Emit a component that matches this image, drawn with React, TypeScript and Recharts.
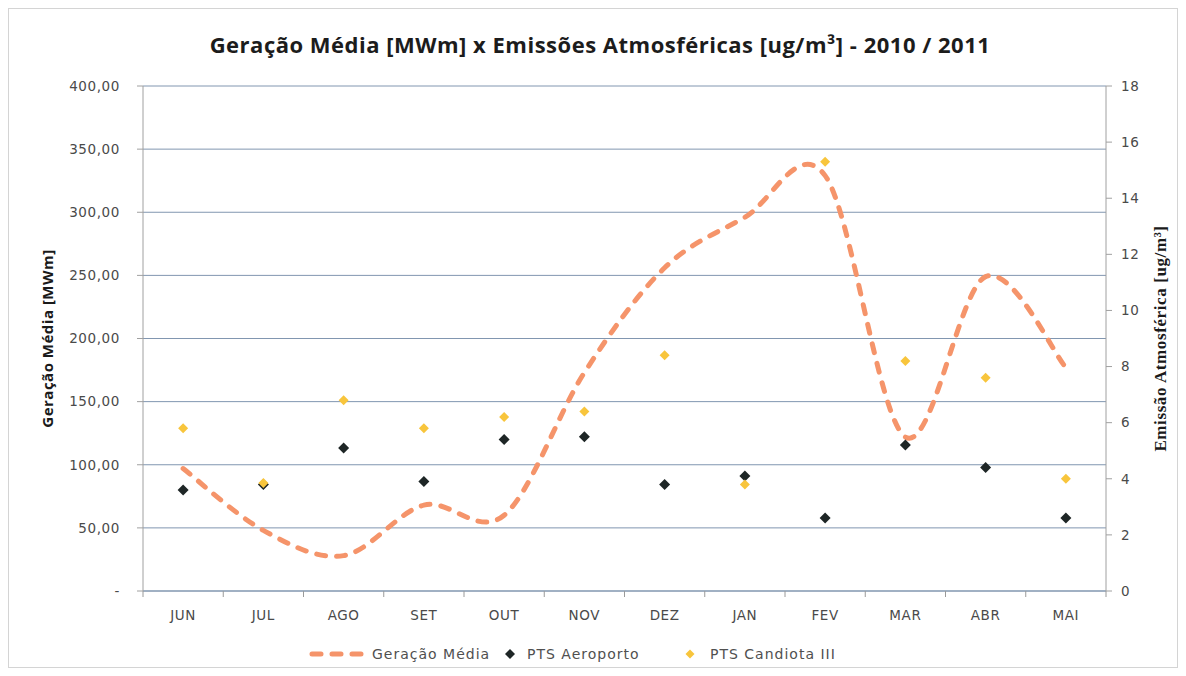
import React from 'react';
import {
	ComposedChart,
	Line,
	Scatter,
	XAxis,
	YAxis,
	CartesianGrid,
	Legend,
} from 'recharts';

const months = ['JUN', 'JUL', 'AGO', 'SET', 'OUT', 'NOV', 'DEZ', 'JAN', 'FEV', 'MAR', 'ABR', 'MAI'];
const geracaoMedia = [97, 48, 28, 68, 60, 173, 256, 296, 329, 122, 249, 177];
const ptsAeroporto = [3.6, 3.8, 5.1, 3.9, 5.4, 5.5, 3.8, 4.1, 2.6, 5.2, 4.4, 2.6];
const ptsCandiota = [5.8, 3.85, 6.8, 5.8, 6.2, 6.4, 8.4, 3.8, 15.3, 8.2, 7.6, 4.0];
const leftTicks = [0, 50, 100, 150, 200, 250, 300, 350, 400];
const rightTicks = [0, 2, 4, 6, 8, 10, 12, 14, 16, 18];

const rows = months.map((m, i) => ({
	mes: m,
	geracao: geracaoMedia[i],
	aeroporto: ptsAeroporto[i],
	candiota: ptsCandiota[i],
}));

const W = 1170;
const H = 660;
const BAND = 963 / 12;
const LINE_COLOR = '#F5946A';
const BLACK = '#1E2626';
const GOLD = '#F8C53C';
const TICK_FONT = '"DejaVu Sans", sans-serif';

// Excel-like smoothed line (catmull-rom style bezier through every point)
const excelSmooth = (context: any) => {
	let pts: [number, number][] = [];
	return {
		areaStart() {},
		areaEnd() {},
		lineStart() {
			pts = [];
		},
		point(x: number, y: number) {
			pts.push([+x, +y]);
		},
		lineEnd() {
			if (!pts.length) return;
			context.moveTo(pts[0][0], pts[0][1]);
			for (let i = 0; i < pts.length - 1; i++) {
				const p0 = pts[i - 1] || pts[i];
				const p1 = pts[i];
				const p2 = pts[i + 1];
				const p3 = pts[i + 2] || p2;
				context.bezierCurveTo(
					p1[0] + (p2[0] - p0[0]) / 6,
					p1[1] + (p2[1] - p0[1]) / 6,
					p2[0] - (p3[0] - p1[0]) / 6,
					p2[1] - (p3[1] - p1[1]) / 6,
					p2[0],
					p2[1],
				);
			}
		},
	};
};

const diamond = (fill: string, r: number) => (props: any) => {
	const { cx, cy } = props;
	if (cx == null || cy == null) return <g />;
	return <path d={`M${cx},${cy - r}L${cx + r},${cy}L${cx},${cy + r}L${cx - r},${cy}Z`} fill={fill} />;
};

const fmtLeft = (v: number) => (v === 0 ? '-' : v.toFixed(2).replace('.', ','));

const MonthTick = (props: any) => {
	const { x, y, payload, index } = props;
	const half = BAND / 2;
	return (
		<g>
			<line x1={x - half} y1={y - 8} x2={x - half} y2={y - 2} stroke='#9a9a9a' />
			{index === months.length - 1 && <line x1={x + half} y1={y - 8} x2={x + half} y2={y - 2} stroke='#9a9a9a' />}
			<text
				x={x}
				y={y + 21}
				textAnchor='middle'
				fontFamily={TICK_FONT}
				fontSize={13.5}
				letterSpacing={0.6}
				fill='#4a4a4a'
			>
				{payload.value}
			</text>
		</g>
	);
};

const LeftTitle = (props: any) => {
	const vb = props.viewBox;
	const x = vb.x - 36;
	const y = vb.y + vb.height / 2;
	return (
		<text
			x={x}
			y={y}
			transform={`rotate(-90, ${x}, ${y})`}
			textAnchor='middle'
			dominantBaseline='central'
			fontFamily='"Open Sans", sans-serif'
			fontWeight={700}
			fontSize={15}
			letterSpacing={0.5}
			fill='#1a1a1a'
		>
			Geração Média [MWm]
		</text>
	);
};

const RightTitle = (props: any) => {
	const vb = props.viewBox;
	const x = vb.x + 54;
	const y = vb.y + vb.height / 2;
	return (
		<text
			x={x}
			y={y}
			transform={`rotate(-90, ${x}, ${y})`}
			textAnchor='middle'
			dominantBaseline='central'
			fontFamily='"Liberation Serif", serif'
			fontWeight={700}
			fontSize={17}
			letterSpacing={0.6}
			fill='#1a1a1a'
		>
			Emissão Atmosférica [ug/m³]
		</text>
	);
};

const legendText: React.CSSProperties = {
	fontFamily: TICK_FONT,
	fontSize: 14,
	letterSpacing: 1,
	color: '#505050',
	marginLeft: 6,
	whiteSpace: 'nowrap',
};

const ChartLegend = () => (
	<div style={{ position: 'relative', width: W, height: 24 }}>
		<div style={{ position: 'absolute', left: 300, top: 0, height: 24, display: 'flex', alignItems: 'center' }}>
			<svg width={58} height={10}>
				<line x1={4} y1={5} x2={56} y2={5} stroke={LINE_COLOR} strokeWidth={5} strokeDasharray='9 11' strokeLinecap='round' />
			</svg>
			<span style={legendText}>Geração Média</span>
		</div>
		<div style={{ position: 'absolute', left: 496, top: 0, height: 24, display: 'flex', alignItems: 'center' }}>
			<svg width={12} height={12}>
				<path d='M6,1L11,6L6,11L1,6Z' fill={BLACK} />
			</svg>
			<span style={{ ...legendText, marginLeft: 11 }}>PTS Aeroporto</span>
		</div>
		<div style={{ position: 'absolute', left: 676, top: 0, height: 24, display: 'flex', alignItems: 'center' }}>
			<svg width={12} height={12}>
				<path d='M6,1.5L10.5,6L6,10.5L1.5,6Z' fill={GOLD} />
			</svg>
			<span style={{ ...legendText, marginLeft: 14 }}>PTS Candiota III</span>
		</div>
	</div>
);

export default function App() {
	return (
		<div
			style={{
				position: 'relative',
				width: W,
				height: H,
				background: '#fff',
				boxShadow: 'inset 0 0 0 1px #d4d4d4',
			}}
		>
			<div
				style={{
					position: 'absolute',
					left: 7,
					top: 21,
					width: W,
					textAlign: 'center',
					fontFamily: '"Open Sans", sans-serif',
					fontWeight: 700,
					fontSize: 22,
					letterSpacing: 0.5,
					color: '#1c1c1c',
					zIndex: 1,
				}}
			>
				Geração Média [MWm] x Emissões Atmosféricas [ug/m³] - 2010 / 2011
			</div>
			<ComposedChart width={W} height={H} data={rows} margin={{ top: 78, right: 12, left: 75, bottom: 2 }}>
				<CartesianGrid yAxisId='left' vertical={false} horizontal stroke='#8196B0' strokeWidth={1} />
				<XAxis
					dataKey='mes'
					height={51}
					padding={{ left: BAND / 2, right: BAND / 2 }}
					axisLine={{ stroke: '#8196B0' }}
					tickLine={false}
					tick={<MonthTick />}
					interval={0}
				/>
				<YAxis
					yAxisId='left'
					orientation='left'
					width={60}
					domain={[0, 400]}
					ticks={leftTicks}
					tickFormatter={fmtLeft}
					axisLine={{ stroke: '#a0a0a0' }}
					tickLine={{ stroke: '#a0a0a0' }}
					tickSize={6}
					tickMargin={17}
					tick={{ fontFamily: TICK_FONT, fontSize: 13.5, letterSpacing: 0.6, fill: '#4a4a4a' }}
					label={<LeftTitle />}
				/>
				<YAxis
					yAxisId='right'
					orientation='right'
					width={60}
					domain={[0, 18]}
					ticks={rightTicks}
					axisLine={{ stroke: '#a0a0a0' }}
					tickLine={{ stroke: '#a0a0a0' }}
					tickSize={6}
					tickMargin={9}
					tick={{ fontFamily: TICK_FONT, fontSize: 13.5, letterSpacing: 0.6, fill: '#4a4a4a' }}
					label={<RightTitle />}
				/>
				<Line
					yAxisId='left'
					dataKey='geracao'
					name='Geração Média'
					type={excelSmooth as any}
					stroke={LINE_COLOR}
					strokeWidth={5}
					strokeDasharray='9 11'
					strokeLinecap='round'
					dot={false}
					activeDot={false}
					isAnimationActive={false}
				/>
				<Scatter
					yAxisId='right'
					dataKey='aeroporto'
					name='PTS Aeroporto'
					fill={BLACK}
					shape={diamond(BLACK, 5.5)}
					isAnimationActive={false}
				/>
				<Scatter
					yAxisId='right'
					dataKey='candiota'
					name='PTS Candiota III'
					fill={GOLD}
					shape={diamond(GOLD, 5)}
					isAnimationActive={false}
				/>
				<Legend verticalAlign='bottom' wrapperStyle={{ left: 0, width: W, bottom: 2 }} content={() => <ChartLegend />} />
			</ComposedChart>
		</div>
	);
}
